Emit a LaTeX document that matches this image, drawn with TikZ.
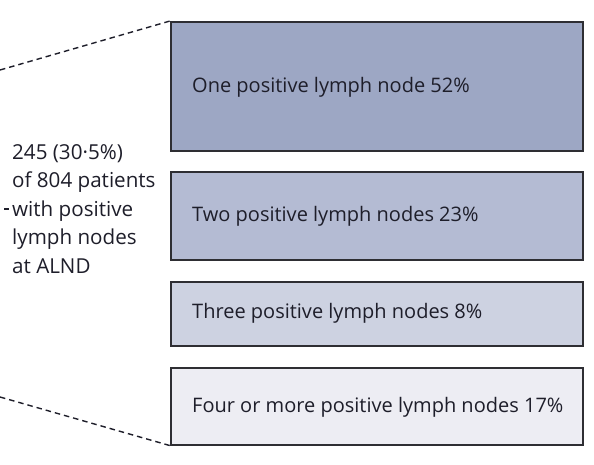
\documentclass[tikz,border=0pt]{standalone}
\usepackage{fontspec}
\setmainfont{Open Sans}
\definecolor{c1}{HTML}{9DA7C4}
\definecolor{c2}{HTML}{B4BBD3}
\definecolor{c3}{HTML}{CDD2E1}
\definecolor{c4}{HTML}{EDEDF3}
\definecolor{txt}{HTML}{1E1E2A}
\definecolor{edge}{HTML}{2E2E33}
\begin{document}
\begin{tikzpicture}[x=1pt,y=-1pt,
  catbox/.style={draw=edge, line width=1.6pt, minimum width=412pt, inner sep=0pt, anchor=north west},
  boxtext/.style={font=\fontsize{20}{24}\selectfont, text=txt, anchor=west, inner sep=0pt},
  guide/.style={line width=1.4pt, dash pattern=on 5.5pt off 4pt, draw=txt}]
\useasboundingbox (0,0) rectangle (594,464);
\node[catbox, fill=c1, minimum height=129pt] (b1) at (170,21) {};
\node[catbox, fill=c2, minimum height=88pt] (b2) at (170,171) {};
\node[catbox, fill=c3, minimum height=64pt] (b3) at (170,281) {};
\node[catbox, fill=c4, minimum height=77pt] (b4) at (170,367) {};
\node[boxtext] (t1) at (192,87) {One positive lymph node 52\%};
\node[boxtext] (t2) at (192,216) {Two positive lymph nodes 23\%};
\node[boxtext] (t3) at (192,313) {Three positive lymph nodes 8\%};
\node[boxtext] (t4) at (192,407) {Four or more positive lymph nodes 17\%};
\node[font=\fontsize{20.6}{28.5}\selectfont, text=txt, align=left, anchor=west, inner sep=0pt] (lab) at (12,209)
  {245 (30·5\%)\\of 804 patients\\with positive\\lymph nodes\\at ALND};
\coordinate (top) at (0,70);
\coordinate (bot) at (0,397);
\coordinate (tick) at (4,209);
\draw[guide] (top) -- (b1.north west);
\draw[guide] (bot) -- (b4.south west);
\draw[line width=1.2pt, draw=txt] (tick) -- ++(5,0);
\end{tikzpicture}
\end{document}
